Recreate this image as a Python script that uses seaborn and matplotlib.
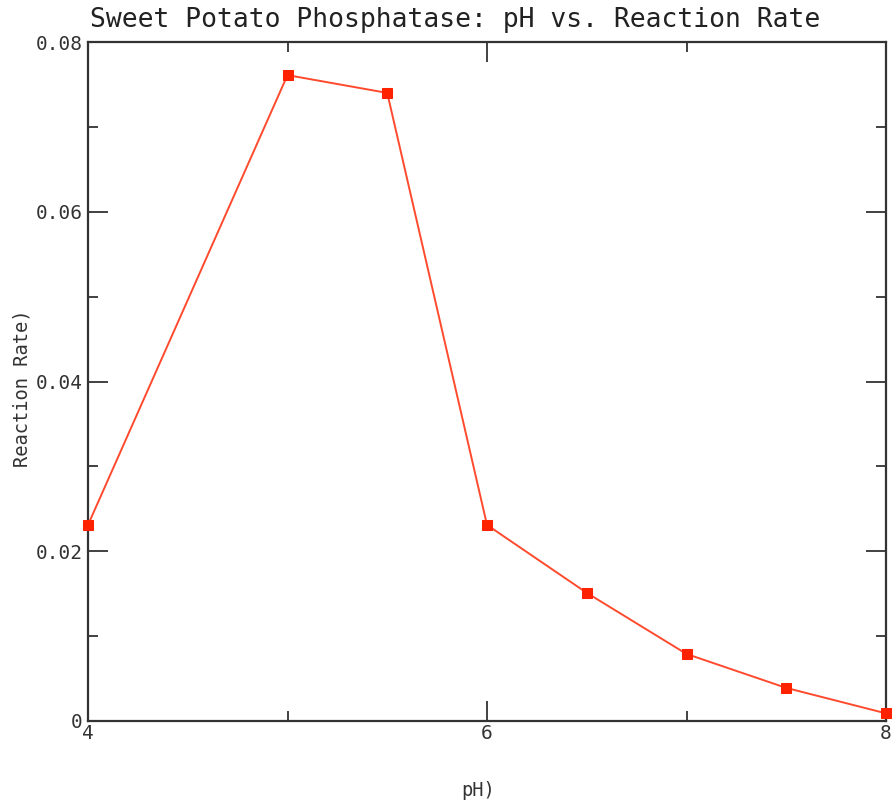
import matplotlib
matplotlib.use("Agg")
import matplotlib.pyplot as plt
from matplotlib.ticker import MultipleLocator
import pandas as pd
import seaborn as sns

# pH vs reaction rate
ph = [4.0, 5.0, 5.5, 6.0, 6.5, 7.0, 7.5, 8.0]
rate = [0.0231, 0.0761, 0.0740, 0.0231, 0.0151, 0.0079, 0.0039, 0.0009]

x_ticks = [4, 6, 8]
y_ticks = [0, 0.02, 0.04, 0.06, 0.08]
y_tick_labels = ["0", "0.02", "0.04", "0.06", "0.08"]

df = pd.DataFrame({"pH": ph, "rate": rate})

sns.set_style("ticks")
plt.rcParams['font.family'] = ['DejaVu Sans Mono', 'DejaVu Sans']

fig = plt.figure(figsize=(8.96, 8.09), dpi=100)
ax = fig.add_axes([88 / 896, 1 - 721 / 809, (886 - 88) / 896, (721 - 42) / 809])

sns.lineplot(data=df, x="pH", y="rate", ax=ax, color="#ff4a2e", linewidth=1.4,
             marker="s", markersize=7, markerfacecolor="#ff2200",
             markeredgecolor="#ff2200", clip_on=False, zorder=5)

ax.set_xlim(4, 8)
ax.set_ylim(0, 0.08)
ax.set_xticks(x_ticks)
ax.set_xticklabels([str(t) for t in x_ticks])
ax.set_yticks(y_ticks)
ax.set_yticklabels(y_tick_labels)
ax.xaxis.set_minor_locator(MultipleLocator(1))
ax.yaxis.set_minor_locator(MultipleLocator(0.01))

for s in ax.spines.values():
    s.set_visible(True)
    s.set_linewidth(1.6)
    s.set_color("#333333")

ax.tick_params(which="major", direction="in", length=14.5, width=1.3,
               top=True, right=True, color="#333333", labelsize=14,
               labelcolor="#333333", pad=4)
ax.tick_params(which="minor", direction="in", length=7.5, width=1.3,
               top=True, right=True, color="#333333")
ax.tick_params(axis="x", which="major", pad=2)

ax.set_xlabel("")
ax.set_ylabel("")
fig.text(478 / 896, 1 - 791 / 809, "pH)", ha="center", va="center",
         fontsize=13.5, color="#333333")
fig.text(22 / 896, 1 - 388 / 809, "Reaction Rate)", ha="center", va="center",
         rotation=90, fontsize=13.5, color="#333333")
fig.text(90 / 896, 1 - 20 / 809, "Sweet Potato Phosphatase: pH vs. Reaction Rate",
         ha="left", va="center", fontsize=19, color="#222222")

fig.savefig("out.png", dpi=100)
